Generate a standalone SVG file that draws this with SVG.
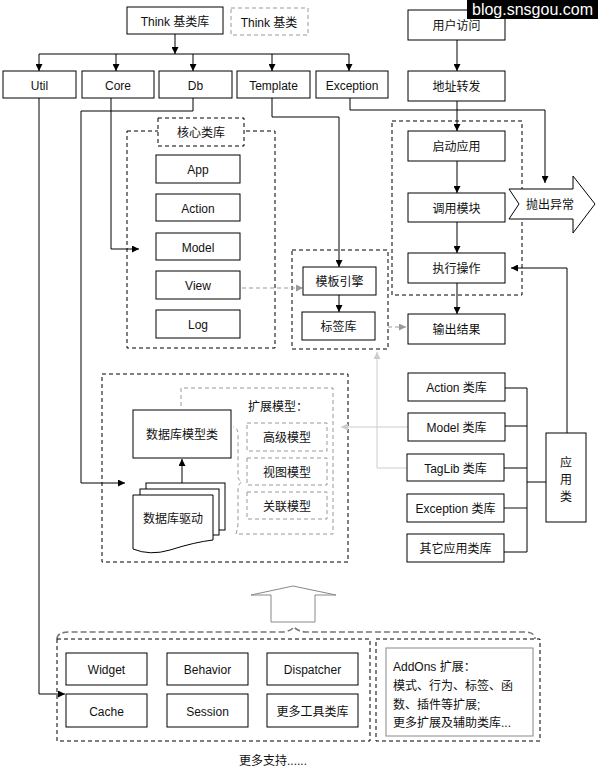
<svg xmlns="http://www.w3.org/2000/svg" width="598" height="773" viewBox="0 0 598 773">
<style>
.t{font-family:"Liberation Sans","Noto Sans CJK SC",sans-serif;font-size:12px;fill:#111;text-anchor:middle;dominant-baseline:central}
.tl{text-anchor:start}
.b{fill:#fff;stroke:#000;stroke-width:1}
.d{fill:none;stroke:#000;stroke-width:1;stroke-dasharray:4,3}
.dw{fill:#fff;stroke:#000;stroke-width:1;stroke-dasharray:4,3}
.g{fill:#fff;stroke:#999;stroke-width:1;stroke-dasharray:4,3}
.c{fill:none;stroke:#000;stroke-width:1}
.cg{fill:none;stroke:#999;stroke-width:1;stroke-dasharray:4,3}
.cl{fill:none;stroke:#ccc;stroke-width:1}
</style>
<defs>
<marker id="a" viewBox="0 0 10 10" refX="10" refY="5" markerUnits="userSpaceOnUse" markerWidth="7" markerHeight="7" orient="auto"><path d="M0,0 L10,5 L0,10 z" fill="#000"/></marker>
<marker id="ag" viewBox="0 0 10 10" refX="10" refY="5" markerUnits="userSpaceOnUse" markerWidth="7" markerHeight="7" orient="auto"><path d="M0,0 L10,5 L0,10 z" fill="#999"/></marker>
<marker id="al" viewBox="0 0 10 10" refX="10" refY="5" markerUnits="userSpaceOnUse" markerWidth="7" markerHeight="7" orient="auto"><path d="M0,0 L10,5 L0,10 z" fill="#ccc"/></marker>
</defs>
<rect width="598" height="773" fill="#fff"/>

<!-- containers -->
<g id="core-lib">
<rect class="d" x="127" y="131" width="148" height="217"/>
<rect class="dw" x="158" y="118" width="86" height="28"/>
<text class="t" x="201" y="133">核心类库</text>
</g>
<g id="tpl-group"><rect class="d" x="292" y="250" width="96" height="99"/></g>
<g id="flow-group"><rect class="d" x="392" y="121" width="130" height="174"/></g>
<g id="db-group"><rect class="d" x="102" y="374" width="246" height="188"/></g>
<g id="ext-group">
<path d="M181,406 V388 H333 V534 H236 Q238,528 238,522 V488 Q238,484 242,482 Q238,480 238,476 V434 Q238,428 233,427" fill="none" stroke="#999" stroke-dasharray="4,3"/>
<text class="t tl" x="248" y="407">扩展模型：</text>
</g>

<!-- connectors -->
<g id="connectors">
<line class="c" x1="175" y1="34" x2="175" y2="54" marker-end="url(#a)"/>
<line class="c" x1="39" y1="54" x2="349" y2="54"/>
<line class="c" x1="39" y1="54" x2="39" y2="71" marker-end="url(#a)"/>
<line class="c" x1="116" y1="54" x2="116" y2="71" marker-end="url(#a)"/>
<line class="c" x1="193" y1="54" x2="193" y2="71" marker-end="url(#a)"/>
<line class="c" x1="272" y1="54" x2="272" y2="71" marker-end="url(#a)"/>
<line class="c" x1="349" y1="54" x2="349" y2="71" marker-end="url(#a)"/>
<polyline class="c" points="39,98 39,694 65,694" marker-end="url(#a)"/>
<polyline class="c" points="111,98 111,249 139,249" marker-end="url(#a)"/>
<polyline class="c" points="193,98 193,111 81,111 81,483 125,483" marker-end="url(#a)"/>
<polyline class="c" points="272,98 272,117 339,117 339,267" marker-end="url(#a)"/>
<polyline class="c" points="350,98 350,110 545,110 545,183" marker-end="url(#a)"/>
<line class="c" x1="457" y1="40" x2="457" y2="71" marker-end="url(#a)"/>
<line class="c" x1="457" y1="101" x2="457" y2="131" marker-end="url(#a)"/>
<line class="c" x1="457" y1="161" x2="457" y2="193" marker-end="url(#a)"/>
<line class="c" x1="457" y1="222" x2="457" y2="253" marker-end="url(#a)"/>
<line class="c" x1="457" y1="283" x2="457" y2="314" marker-end="url(#a)"/>
<line class="c" x1="339" y1="295" x2="339" y2="312" marker-end="url(#a)"/>
<line class="cg" x1="235" y1="288" x2="303" y2="288" marker-end="url(#ag)"/>
<line class="cg" x1="388" y1="327" x2="406" y2="327" marker-end="url(#ag)"/>
<line class="cl" x1="408" y1="427" x2="341" y2="427" marker-end="url(#al)"/>
<polyline class="cl" points="407,468 377,468 377,352" marker-end="url(#al)"/>
<polyline class="c" points="567,433 567,268 511,268" marker-end="url(#a)"/>
<line class="c" x1="505" y1="388" x2="527" y2="388"/>
<line class="c" x1="505" y1="426" x2="527" y2="426"/>
<line class="c" x1="504" y1="468" x2="527" y2="468"/>
<line x1="504" y1="508" x2="527" y2="508" stroke="#888" stroke-width="2"/>
<line class="c" x1="504" y1="552" x2="527" y2="552"/>
<line class="c" x1="527" y1="388" x2="527" y2="552"/>
<line class="c" x1="527" y1="482" x2="546" y2="482"/>
<line class="c" x1="182" y1="483" x2="182" y2="459" marker-end="url(#a)"/>
</g>

<!-- top nodes -->
<g id="think-base"><rect class="b" x="127" y="7" width="96" height="27"/><text class="t" x="175" y="21.5">Think 基类库</text></g>
<g id="think-legend"><rect class="g" x="231" y="8" width="77" height="27"/><text class="t" x="269" y="22.5">Think 基类</text></g>
<g id="util"><rect class="b" x="3" y="71" width="73" height="27"/><text class="t" x="39.5" y="86">Util</text></g>
<g id="core"><rect class="b" x="82" y="71" width="72" height="27"/><text class="t" x="118" y="86">Core</text></g>
<g id="db"><rect class="b" x="159" y="71" width="73" height="27"/><text class="t" x="195.5" y="86">Db</text></g>
<g id="template"><rect class="b" x="237" y="71" width="73" height="27"/><text class="t" x="273.5" y="86">Template</text></g>
<g id="exception"><rect class="b" x="316" y="71" width="72" height="27"/><text class="t" x="352" y="86">Exception</text></g>

<!-- core lib -->
<g id="app"><rect class="b" x="156" y="155" width="84" height="28"/><text class="t" x="198" y="170">App</text></g>
<g id="action"><rect class="b" x="156" y="194" width="84" height="27"/><text class="t" x="198" y="209">Action</text></g>
<g id="model"><rect class="b" x="156" y="233" width="84" height="27"/><text class="t" x="198" y="248">Model</text></g>
<g id="view"><rect class="b" x="156" y="271" width="84" height="28"/><text class="t" x="198" y="286">View</text></g>
<g id="log"><rect class="b" x="156" y="310" width="84" height="28"/><text class="t" x="198" y="325">Log</text></g>

<!-- template -->
<g id="tpl-engine"><rect class="b" x="303" y="267" width="73" height="28"/><text class="t" x="339.5" y="282">模板引擎</text></g>
<g id="taglib"><rect class="b" x="302" y="312" width="73" height="28"/><text class="t" x="338.5" y="327">标签库</text></g>

<!-- flow -->
<g id="user-visit"><rect class="b" x="408" y="10" width="97" height="30"/><text class="t" x="456.5" y="26">用户访问</text></g>
<g id="route"><rect class="b" x="408" y="71" width="97" height="30"/><text class="t" x="456.5" y="87">地址转发</text></g>
<g id="start"><rect class="b" x="408" y="131" width="97" height="30"/><text class="t" x="456.5" y="147">启动应用</text></g>
<g id="call"><rect class="b" x="408" y="193" width="97" height="29"/><text class="t" x="456.5" y="208.5">调用模块</text></g>
<g id="exec"><rect class="b" x="408" y="253" width="97" height="30"/><text class="t" x="456.5" y="269">执行操作</text></g>
<g id="output"><rect class="b" x="408" y="314" width="97" height="30"/><text class="t" x="456.5" y="330">输出结果</text></g>
<g id="throw"><polygon points="509,189 573,189 573,176 595,204 573,233 573,219 509,219 519,204" fill="#fff" stroke="#000"/><text class="t" x="550" y="205">抛出异常</text></g>

<!-- db -->
<g id="db-model"><rect class="b" x="133" y="410" width="98" height="48"/><text class="t" x="182" y="435">数据库模型类</text></g>
<g id="db-driver">
<rect class="b" x="146" y="483" width="79" height="47"/>
<rect class="b" x="140" y="489" width="79" height="46"/>
<path d="M133,495 H213 V540 Q195,542 170,550 Q150,556 133,549 Z" class="b"/>
<text class="t" x="173" y="519">数据库驱动</text>
</g>
<g id="adv-model"><rect class="g" x="247" y="423" width="80" height="28"/><text class="t" x="287" y="438">高级模型</text></g>
<g id="view-model"><rect class="g" x="247" y="458" width="80" height="27"/><text class="t" x="287" y="472.5">视图模型</text></g>
<g id="rel-model"><rect class="g" x="247" y="492" width="80" height="27"/><text class="t" x="287" y="506.5">关联模型</text></g>

<!-- app libs -->
<g id="action-lib"><rect class="b" x="408" y="373" width="97" height="28"/><text class="t" x="456.5" y="388">Action 类库</text></g>
<g id="model-lib"><rect class="b" x="408" y="413" width="97" height="28"/><text class="t" x="456.5" y="428">Model 类库</text></g>
<g id="taglib-lib"><rect class="b" x="407" y="454" width="97" height="27"/><text class="t" x="455.5" y="469">TagLib 类库</text></g>
<g id="exception-lib"><rect class="b" x="407" y="494" width="97" height="28"/><text class="t" x="455.5" y="509">Exception 类库</text></g>
<g id="other-lib"><rect class="b" x="407" y="534" width="97" height="28"/><text class="t" x="455.5" y="549">其它应用类库</text></g>
<g id="app-class"><rect class="b" x="546" y="433" width="40" height="89"/>
<text class="t" x="566" y="463">应</text><text class="t" x="566" y="480">用</text><text class="t" x="566" y="497">类</text></g>

<!-- bottom -->
<g id="up-arrow"><polygon points="271,622 271,595 251,595 293,586 336,595 315,595 315,622" fill="#fff" stroke="#888"/></g>
<g id="brace"><path d="M57,639 Q57,632 70,632 L283,632 Q291,631 294,627 Q297,631 305,632 L525,632 Q535,632 535,639" fill="none" stroke="#777" stroke-width="1.6" stroke-dasharray="6,3"/></g>
<g id="tools-group"><rect class="d" x="57" y="639" width="313" height="102"/></g>
<g id="widget"><rect class="b" x="66" y="653" width="81" height="32"/><text class="t" x="106.5" y="670">Widget</text></g>
<g id="behavior"><rect class="b" x="167" y="653" width="81" height="32"/><text class="t" x="207.5" y="670">Behavior</text></g>
<g id="dispatcher"><rect class="b" x="267" y="653" width="91" height="32"/><text class="t" x="312.5" y="670">Dispatcher</text></g>
<g id="cache"><rect class="b" x="66" y="694" width="81" height="33"/><text class="t" x="106.5" y="711.5">Cache</text></g>
<g id="session"><rect class="b" x="167" y="694" width="81" height="33"/><text class="t" x="207.5" y="711.5">Session</text></g>
<g id="more-tools"><rect class="b" x="267" y="694" width="91" height="33"/><text class="t" x="312.5" y="711.5">更多工具类库</text></g>
<g id="addons">
<rect class="d" x="376" y="639" width="164" height="102"/>
<rect x="386" y="648" width="147" height="88" fill="#fff" stroke="#888"/>
<text class="t tl" x="393" y="667">AddOns 扩展：</text>
<text class="t tl" x="393" y="686">模式、行为、标签、函</text>
<text class="t tl" x="393" y="705">数、插件等扩展;</text>
<text class="t tl" x="393" y="723">更多扩展及辅助类库...</text>
</g>
<text class="t" x="273" y="761">更多支持......</text>

<g id="watermark"><rect x="467" y="0" width="131" height="19" fill="#000"/>
<text x="472" y="15" font-family="Liberation Sans, sans-serif" font-size="16" fill="#fff">blog.snsgou.com</text></g>
</svg>
